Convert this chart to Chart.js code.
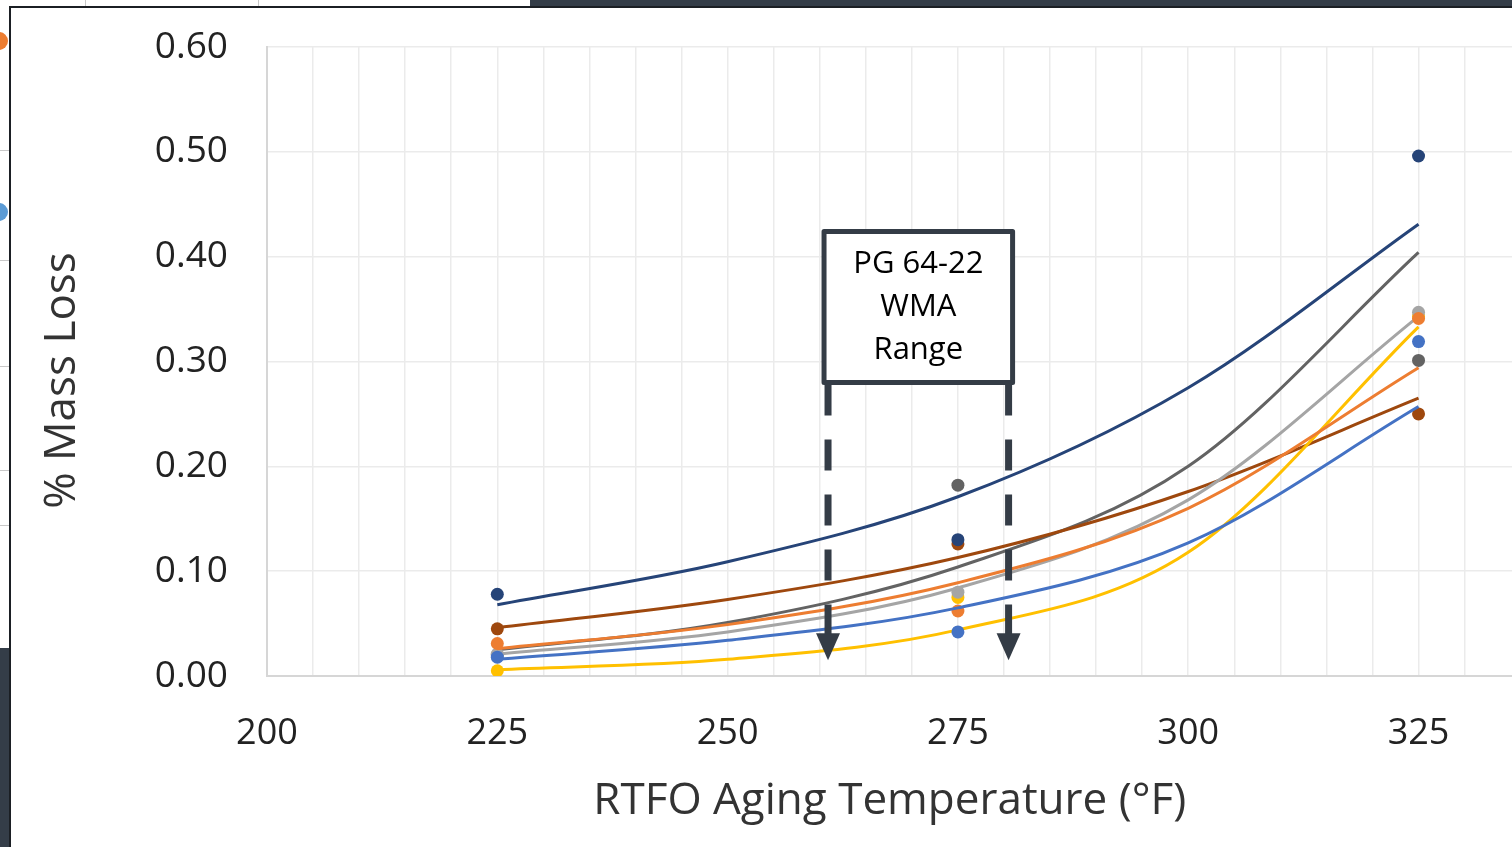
<!DOCTYPE html>
<html>
<head>
<meta charset="utf-8">
<title>RTFO Mass Loss</title>
<script src="https://cdn.jsdelivr.net/npm/chart.js@4.4.1/dist/chart.umd.min.js"></script>
<style>
  html, body { margin: 0; padding: 0; width: 1512px; height: 847px; overflow: hidden; background: #fff; }
  #frame { position: absolute; left: 0; top: 0; width: 1512px; height: 847px; }
  .bar-top { position: absolute; left: 530px; top: 0; width: 982px; height: 6px; background: #343d48; }
  .bar-left { position: absolute; left: 0; top: 648px; width: 9px; height: 199px; background: #343d48; }
  .edge-top { position: absolute; left: 9px; top: 6px; width: 1503px; height: 2px; background: #1b1f24; }
  .edge-left { position: absolute; left: 9px; top: 6px; width: 2px; height: 841px; background: #1b1f24; }
  .cell-h { position: absolute; left: 0; width: 9px; height: 1px; background: #c8c8c8; }
  .cell-v { position: absolute; top: 0; width: 1px; height: 6px; background: #c8c8c8; }
  .stray { position: absolute; width: 18px; height: 18px; border-radius: 50%; }
  /* a little wider than the window: the plot runs off the right edge like the cropped source */
  #wrap { position: absolute; left: 0; top: 0; width: 1519px; height: 847px; }
</style>
</head>
<body>
<div id="frame">
  <div class="cell-v" style="left:85px"></div>
  <div class="cell-v" style="left:258px"></div>
  <div class="cell-h" style="top:150px"></div>
  <div class="cell-h" style="top:260px"></div>
  <div class="cell-h" style="top:366px"></div>
  <div class="cell-h" style="top:470px"></div>
  <div class="cell-h" style="top:525px"></div>
  <div class="stray" style="left:-10px;top:32px;background:#ed7d31"></div>
  <div class="stray" style="left:-10px;top:203px;background:#5b9bd5"></div>
  <div class="bar-top"></div>
  <div class="bar-left"></div>
</div>
<div id="wrap"><canvas id="chart"></canvas></div>
<div class="edge-top"></div>
<div class="edge-left"></div>

<script>
// temperatures tested (°F)
const temps = [225, 275, 325];

// measured mass loss (%) per binder
const lossBlue = [0.018, 0.042, 0.319];
const lossOrange = [0.031, 0.062, 0.341];
const lossLightGray = [0.021, 0.080, 0.347];
const lossYellow = [0.005, 0.075, 0.343];
const lossDarkBlue = [0.078, 0.130, 0.496];
const lossBrown = [0.045, 0.126, 0.250];
const lossDarkGray = [0.020, 0.182, 0.301];

// exponential trendlines
const trendTemps = [225, 250, 275, 300, 325];
const trendBlue = [0.016, 0.034, 0.065, 0.127, 0.257];
const trendOrange = [0.026, 0.049, 0.089, 0.160, 0.294];
const trendLightGray = [0.021, 0.042, 0.084, 0.168, 0.343];
const trendYellow = [0.006, 0.016, 0.044, 0.118, 0.333];
const trendDarkBlue = [0.068, 0.109, 0.171, 0.275, 0.431];
const trendBrown = [0.046, 0.073, 0.113, 0.176, 0.265];
const trendDarkGray = [0.025, 0.051, 0.104, 0.200, 0.404];

// axis ticks
const xTickLabels = [200, 225, 250, 275, 300, 325];
const yTickLabels = [0.00, 0.10, 0.20, 0.30, 0.40, 0.50, 0.60];

// WMA range annotation (data units)
const wmaRange = [260.9, 280.5];
const wmaBox = [0.280, 0.424];
const wmaArrowTip = 0.015;
const wmaText = ['PG 64-22', 'WMA', 'Range'];

const FONT = "'Open Sans', 'Noto Sans', sans-serif";
const Y_TITLE = '% Mass Loss';

const series = [
    { name: 'Binder 1', color: '#4472c4', pts: lossBlue, trend: trendBlue },
    { name: 'Binder 2', color: '#ed7d31', pts: lossOrange, trend: trendOrange },
    { name: 'Binder 3', color: '#a5a5a5', pts: lossLightGray, trend: trendLightGray },
    { name: 'Binder 4', color: '#ffc000', pts: lossYellow, trend: trendYellow },
    { name: 'Binder 5', color: '#264478', pts: lossDarkBlue, trend: trendDarkBlue },
    { name: 'Binder 6', color: '#9e480e', pts: lossBrown, trend: trendBrown },
    { name: 'Binder 7', color: '#636363', pts: lossDarkGray, trend: trendDarkGray }
];

const datasets = [];
series.forEach(s => {
    datasets.push({
        label: s.name + ' trend',
        type: 'line',
        data: trendTemps.map((t, i) => ({ x: t, y: s.trend[i] })),
        borderColor: s.color,
        borderWidth: 3,
        pointRadius: 0,
        fill: false,
        cubicInterpolationMode: 'monotone'
    });
    datasets.push({
        label: s.name,
        type: 'scatter',
        data: temps.map((t, i) => ({ x: t, y: s.pts[i] })),
        backgroundColor: s.color,
        borderColor: s.color,
        pointRadius: 6.5,
        pointBorderWidth: 0
    });
});

// draws the y title, the boxed label and the two dashed arrows
const wmaPlugin = {
    id: 'wma',
    afterDatasetsDraw(chart) {
        const ctx = chart.ctx;
        const xs = chart.scales.x, ys = chart.scales.y;
        const xl = xs.getPixelForValue(wmaRange[0]);
        const xr = xs.getPixelForValue(wmaRange[1]);
        const yTop = ys.getPixelForValue(wmaBox[1]);
        const yBot = ys.getPixelForValue(wmaBox[0]);
        const yTip = ys.getPixelForValue(wmaArrowTip);
        const dark = '#343c46';
        ctx.save();

        // y axis title, sits a bit below the plot centre like in the source
        ctx.save();
        ctx.translate(62, (ys.top + ys.bottom) / 2 + 19);
        ctx.rotate(-Math.PI / 2);
        ctx.fillStyle = '#333';
        ctx.font = '44px ' + FONT;
        ctx.textAlign = 'center';
        ctx.textBaseline = 'middle';
        ctx.fillText(Y_TITLE, 0, 0);
        ctx.restore();

        [xl, xr].forEach(x => {
            ctx.strokeStyle = dark;
            ctx.lineWidth = 7;
            ctx.setLineDash([31, 24]);
            ctx.beginPath();
            ctx.moveTo(x, yBot + 2);
            ctx.lineTo(x, yTip - 24);
            ctx.stroke();
            ctx.setLineDash([]);
            ctx.fillStyle = dark;
            ctx.beginPath();
            ctx.moveTo(x - 12, yTip - 27);
            ctx.lineTo(x + 12, yTip - 27);
            ctx.lineTo(x, yTip);
            ctx.closePath();
            ctx.fill();
        });

        const bx = xl - 4, bw = (xr - xl) + 8;
        ctx.fillStyle = '#ffffff';
        ctx.fillRect(bx, yTop, bw, yBot - yTop);
        ctx.strokeStyle = dark;
        ctx.lineWidth = 5;
        ctx.lineJoin = 'round';
        ctx.strokeRect(bx, yTop, bw, yBot - yTop);

        ctx.fillStyle = '#000000';
        ctx.font = '31px ' + FONT;
        ctx.textAlign = 'center';
        ctx.textBaseline = 'middle';
        const cx = bx + bw / 2;
        const lineGap = 43;
        const cy = (yTop + yBot) / 2;
        wmaText.forEach((t, i) => {
            ctx.fillText(t, cx, cy + (i - 1) * lineGap);
        });
        ctx.restore();
    }
};

new Chart(document.getElementById('chart').getContext('2d'), {
    data: { datasets: datasets },
    plugins: [wmaPlugin],
    options: {
        responsive: true,
        maintainAspectRatio: false,
        animation: false,
        layout: { padding: { left: 10, top: 47, right: 0, bottom: 0 } },
        plugins: { legend: { display: false }, tooltip: { enabled: false } },
        scales: {
            x: {
                type: 'linear',
                min: 200,
                max: 335.2,
                afterBuildTicks: scale => {
                    scale.ticks = scale.ticks.filter(t => Math.abs(t.value % 5) < 1e-6);
                },
                afterFit: scale => {
                    scale.height = 171;
                    scale.paddingLeft = 0;
                    scale.paddingRight = 0;
                },
                ticks: {
                    stepSize: 5,
                    autoSkip: false,
                    maxRotation: 0,
                    padding: 36,
                    color: '#222',
                    font: { family: FONT, size: 36 },
                    callback: v => xTickLabels.includes(v) ? String(v) : ''
                },
                grid: { color: '#ebebeb', lineWidth: 1.5, drawTicks: false },
                border: { color: '#d6d6d6', width: 2 },
                title: {
                    display: true,
                    text: 'RTFO Aging Temperature (°F)',
                    color: '#333',
                    font: { family: FONT, size: 44 },
                    padding: { top: 0, bottom: 19 }
                }
            },
            y: {
                min: 0,
                max: 0.6,
                afterBuildTicks: scale => {
                    scale.ticks = yTickLabels.map(v => ({ value: v }));
                },
                afterFit: scale => {
                    scale.width = 257;
                    scale.paddingTop = 0;
                    scale.paddingBottom = 0;
                },
                ticks: {
                    stepSize: 0.1,
                    padding: 39,
                    color: '#222',
                    font: { family: FONT, size: 37 },
                    callback: v => v.toFixed(2)
                },
                grid: { color: '#ebebeb', lineWidth: 1.5, drawTicks: false },
                border: { color: '#d6d6d6', width: 2 },
                title: { display: false }
            }
        }
    }
});
</script>
</body>
</html>
